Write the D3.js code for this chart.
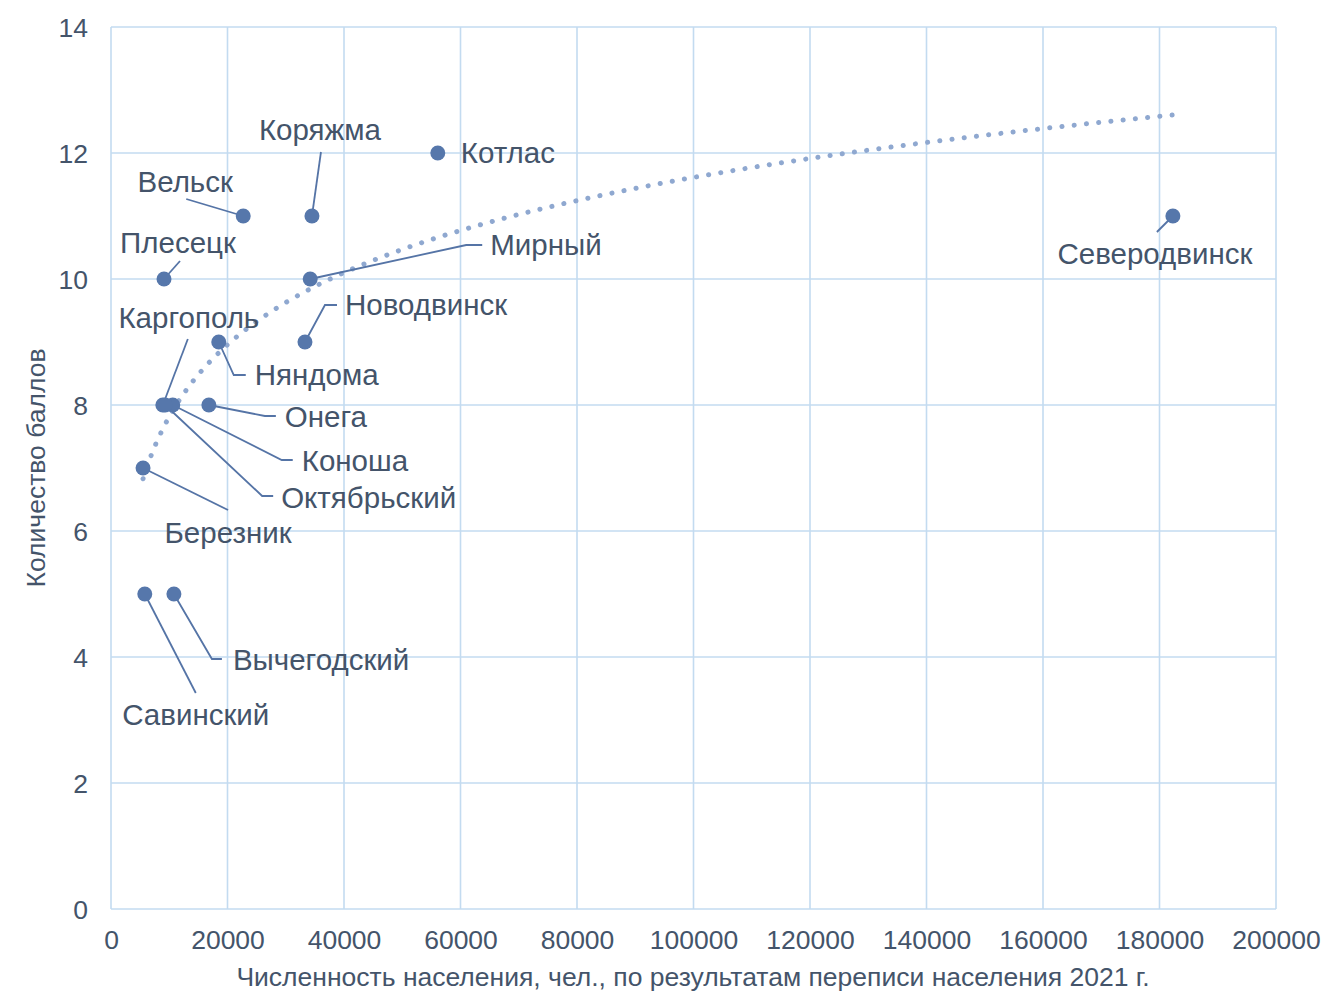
<!DOCTYPE html>
<html><head><meta charset="utf-8">
<script src="https://cdn.jsdelivr.net/npm/d3@7"></script>
<style>
html,body{margin:0;padding:0;background:#fff;}
text{font-family:"Liberation Sans",Arial,sans-serif;fill:#44546A;}
</style></head><body>
<svg id="c" width="1325" height="992"></svg>
<script>
// ---- data ----
const cities = ["Котлас","Коряжма","Вельск","Плесецк","Мирный","Северодвинск","Новодвинск","Каргополь","Няндома","Онега","Коноша","Октябрьский","Березник","Вычегодский","Савинский"];
const population = [56100, 34500, 22700, 9100, 34200, 182300, 33300, 8900, 18500, 16800, 10600, 9300, 5500, 10800, 5800];
const score = [12, 11, 11, 10, 10, 11, 9, 8, 9, 8, 8, 8, 7, 5, 5];
const xTicks = [0,20000,40000,60000,80000,100000,120000,140000,160000,180000,200000];
const yTicks = [0,2,4,6,8,10,12,14];
const xTitle = "Численность населения, чел., по результатам переписи населения 2021 г.";
const yTitle = "Количество баллов";

// ---- layout (label placement, px offsets from marker) ----
const labelLayout = {
 "Котлас":      {dx:23, dy:0, anchor:"start", leader:null},
 "Коряжма":     {dx:8, dy:-86, anchor:"middle", leader:[[9,-64],[0,0]]},
 "Вельск":      {dx:-58, dy:-34, anchor:"middle", leader:[[-57,-17],[0,0]]},
 "Плесецк":     {dx:14, dy:-36, anchor:"middle", leader:[[16,-18],[0,0]]},
 "Мирный":      {dx:180, dy:-34, anchor:"start", leader:[[0,0],[156,-34],[172,-34]]},
 "Северодвинск":{dx:-18, dy:38, anchor:"middle", leader:[[-16,16],[0,0]]},
 "Новодвинск":  {dx:40, dy:-37, anchor:"start", leader:[[0,0],[20,-37],[32,-37]]},
 "Каргополь":   {dx:26, dy:-87, anchor:"middle", leader:[[25,-66],[0,0]]},
 "Няндома":     {dx:36, dy:33, anchor:"start", leader:[[0,0],[15,33],[27,33]]},
 "Онега":       {dx:76, dy:12, anchor:"start", leader:[[0,0],[56,11],[67,11]]},
 "Коноша":      {dx:129, dy:56, anchor:"start", leader:[[0,0],[109,55],[120,55]]},
 "Октябрьский": {dx:116, dy:93, anchor:"start", leader:[[0,0],[97,91],[108,91]]},
 "Березник":    {dx:85, dy:65, anchor:"middle", leader:[[0,0],[85,42]]},
 "Вычегодский": {dx:59, dy:66, anchor:"start", leader:[[0,0],[38,65],[48,65]]},
 "Савинский":   {dx:51, dy:121, anchor:"middle", leader:[[0,0],[51,99]]}
};

const svg = d3.select("#c");
const L=111, R=1276, T=27, B=909;
const x = d3.scaleLinear().domain([0,200000]).range([L,R]);
const y = d3.scaleLinear().domain([0,14]).range([B,T]);
const gridColor="#C3DBF0";
const tickFont="26.5px", labelFont="29.5px", titleFont="26.5px";

// grid
const g = svg.append("g");
g.selectAll("line.v").data(xTicks).join("line")
 .attr("x1",d=>x(d)).attr("x2",d=>x(d)).attr("y1",T).attr("y2",B)
 .attr("stroke",gridColor).attr("stroke-width",1.6);
g.selectAll("line.h").data(yTicks).join("line")
 .attr("x1",L).attr("x2",R).attr("y1",d=>y(d)).attr("y2",d=>y(d))
 .attr("stroke",gridColor).attr("stroke-width",1.6);

// axes tick labels
const xAxis = d3.axisBottom(x).tickValues(xTicks).tickSize(0).tickPadding(0).tickFormat(d=>String(d));
const xa = svg.append("g").attr("transform",`translate(0,${B})`).call(xAxis);
xa.select(".domain").remove();
xa.selectAll("text").attr("y",31).attr("dy","0.35em").style("font-size",tickFont).style("font-family","Liberation Sans, Arial").attr("fill","#44546A");
const yAxis = d3.axisLeft(y).tickValues(yTicks).tickSize(0).tickPadding(0).tickFormat(d=>String(d));
const ya = svg.append("g").attr("transform",`translate(${L},0)`).call(yAxis);
ya.select(".domain").remove();
ya.selectAll("text").attr("x",-23).attr("dy","0.35em").style("font-size",tickFont).style("font-family","Liberation Sans, Arial").attr("fill","#44546A");

// axis titles
svg.append("text").attr("x",693).attr("y",977).attr("dy","0.35em").attr("text-anchor","middle")
 .style("font-size",titleFont).text(xTitle);
svg.append("text").attr("transform","translate(36,468) rotate(-90)").attr("dy","0.35em").attr("text-anchor","middle")
 .style("font-size",titleFont).text(yTitle);

// logarithmic trendline (least squares on ln x)
const lx = population.map(v=>Math.log(v));
const mx = d3.mean(lx), my = d3.mean(score);
let sxy=0,sxx=0;
lx.forEach((v,i)=>{sxy+=(v-mx)*(score[i]-my); sxx+=(v-mx)*(v-mx);});
const a = sxy/sxx, b = my - a*mx;
const xmin = d3.min(population), xmax = d3.max(population);
const trendX = d3.range(0,201).map(i=>Math.exp(Math.log(xmin)+(Math.log(xmax)-Math.log(xmin))*i/200));
svg.append("path")
 .attr("d", d3.line().x(d=>x(d)).y(d=>y(a*Math.log(d)+b))(trendX))
 .attr("fill","none").attr("stroke","#8FA8D0").attr("stroke-width",5)
 .attr("stroke-linecap","round").attr("stroke-dasharray","0.1 12.2");

const pts = cities.map((c,i)=>({c, px:x(population[i]), py:y(score[i])}));

// leaders
const leaderColor="#5574A6";
pts.forEach(p=>{
 const l = labelLayout[p.c];
 if(l.leader){
  svg.append("path").attr("d", d3.line()(l.leader.map(q=>[p.px+q[0], p.py+q[1]])))
   .attr("fill","none").attr("stroke",leaderColor).attr("stroke-width",1.8);
 }
});

// markers
svg.selectAll("circle.m").data(pts).join("circle")
 .attr("cx",d=>d.px).attr("cy",d=>d.py).attr("r",7.5).attr("fill","#5677AB");

// labels
pts.forEach(p=>{
 const l = labelLayout[p.c];
 svg.append("text").attr("x",p.px+l.dx).attr("y",p.py+l.dy).attr("dy","0.35em")
  .attr("text-anchor",l.anchor).style("font-size",labelFont).text(p.c);
});
</script>
</body></html>
